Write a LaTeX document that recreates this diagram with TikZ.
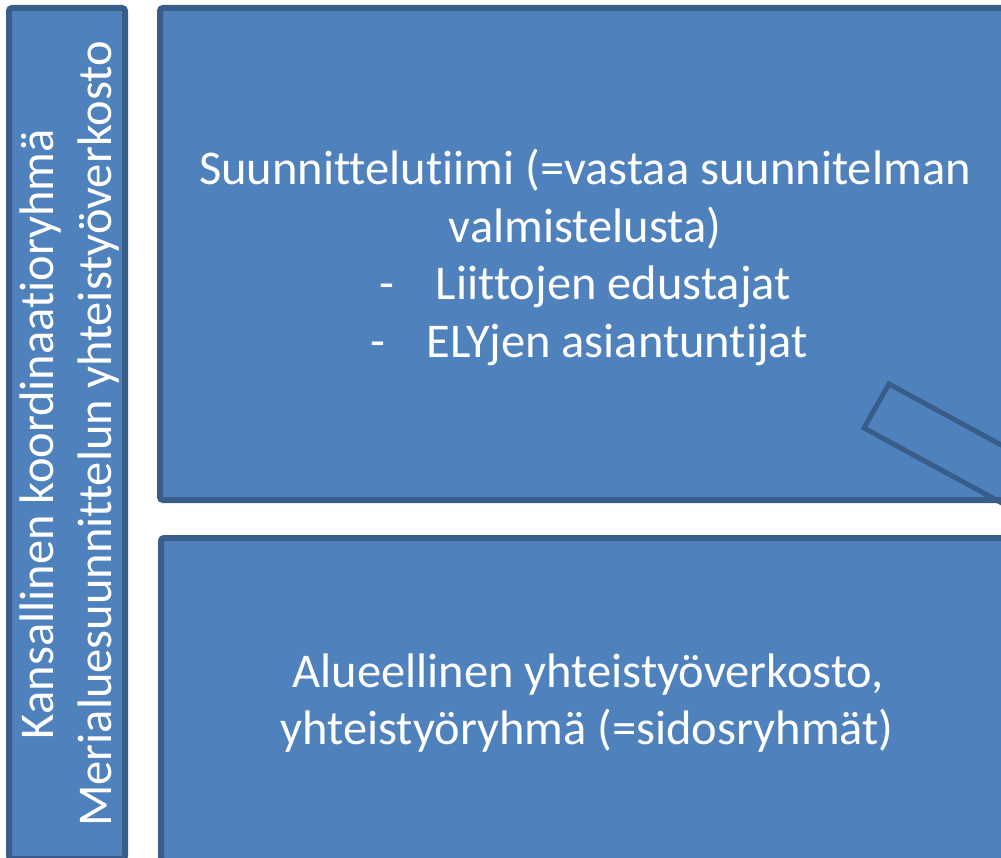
\documentclass[tikz,border=0pt]{standalone}
\usepackage{fontspec}
\setmainfont{Carlito}[Ligatures=NoCommon]
\definecolor{boxfill}{HTML}{4F81BD}
\definecolor{boxline}{HTML}{385D8A}
\tikzset{
  panel/.style={fill=boxfill, draw=boxline, line width=6pt, rounded corners=3pt},
  txt/.style={text=white, font=\fontsize{48.5}{57.7}\selectfont, inner sep=0pt, anchor=base},
  tilt/.style={draw=boxline, line width=5pt}
}
\begin{document}
\begin{tikzpicture}[x=1pt,y=-1pt]
\useasboundingbox (0,0) rectangle (1001,858);
\clip (0,0) rectangle (1001,858);
% left vertical bar
\draw[panel] (9,8) rectangle (125,859);
% top box
\draw[panel] (160,8) rectangle (1040,500);
% bottom box
\draw[panel] (161,538) rectangle (1040,861);
% tilted rectangle at right
\draw[tilt] (889,384) -- (1152,527) -- (1127,571) -- (864,428) -- cycle;
% left bar texts
\node[txt, rotate=90] (k1) at (53,434) {Kansallinen koordinaatioryhmä};
\node[txt, rotate=90] (k2) at (111,434) {Merialuesuunnittelun yhteistyöverkosto};
% top box texts
\node[txt] (t1) at (585,185) {Suunnittelutiimi (=vastaa suunnitelman};
\node[txt] (t2) at (585,243) {valmistelusta)};
\node[txt] (t3) at (585,300) {-\hspace{42pt}Liittojen edustajat};
\node[txt] (t4) at (589,358) {-\hspace{42pt}ELYjen asiantuntijat};
% bottom box texts
\node[txt] (b1) at (588,687) {Alueellinen yhteistyöverkosto,};
\node[txt] (b2) at (587,744) {yhteistyöryhmä (=sidosryhmät)};
\end{tikzpicture}
\end{document}
